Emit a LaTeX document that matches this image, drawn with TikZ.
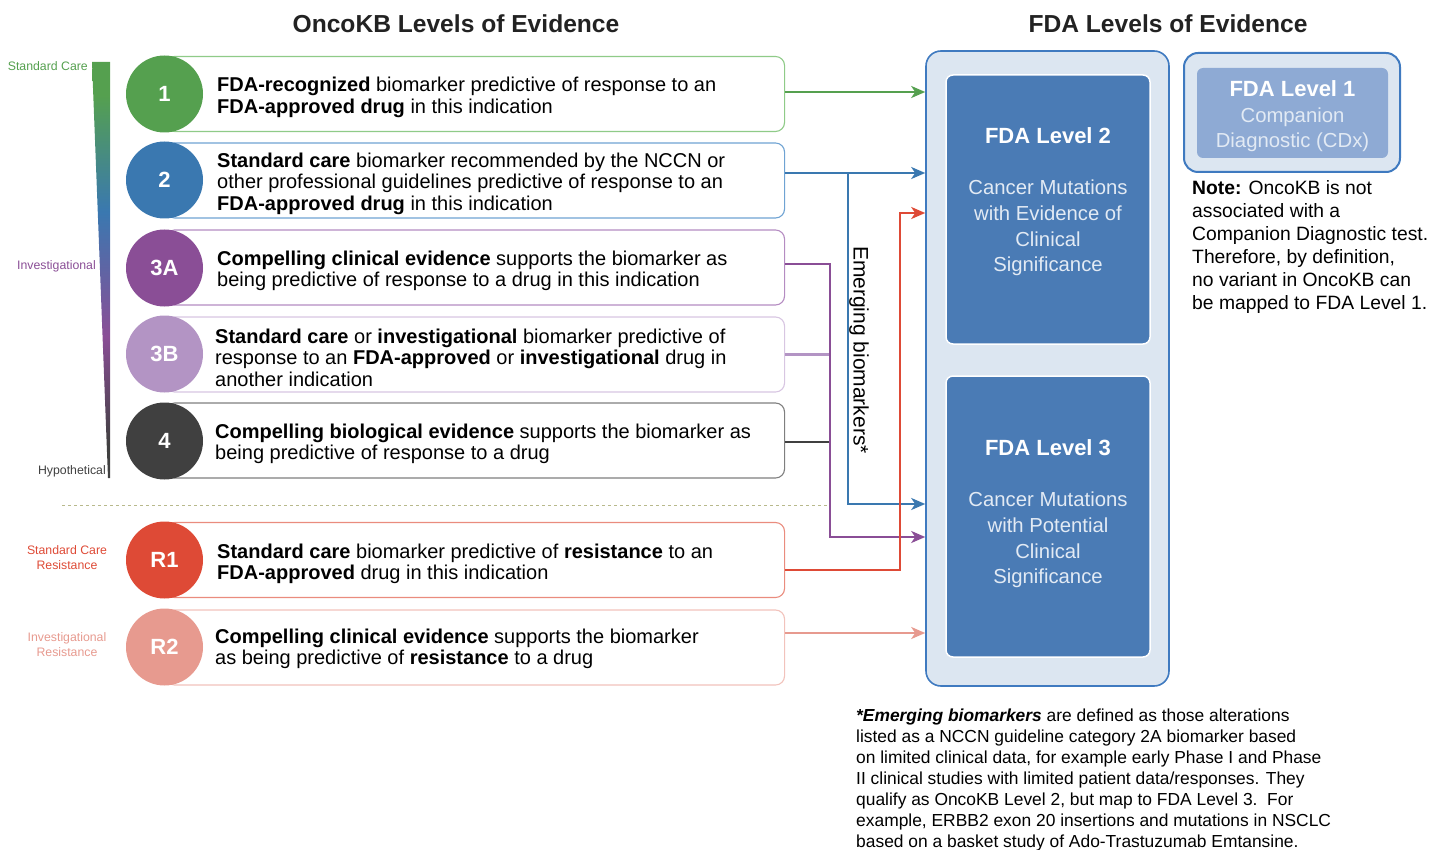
\documentclass[tikz,border=0pt]{standalone}
\usepackage{fontspec}
\setmainfont{Liberation Sans}
\usetikzlibrary{arrows.meta,calc}
\definecolor{cgreen}{HTML}{55A04F}
\definecolor{cblue}{HTML}{3A78B0}
\definecolor{cpurple}{HTML}{8A4E96}
\definecolor{clilac}{HTML}{B394C4}
\definecolor{cdark}{HTML}{404040}
\definecolor{cred}{HTML}{DE4A36}
\definecolor{csalmon}{HTML}{E79A8F}
\definecolor{bgreen}{HTML}{8FCB88}
\definecolor{bblue}{HTML}{6FA3D3}
\definecolor{bpurple}{HTML}{B58CC2}
\definecolor{blilac}{HTML}{D8C6E2}
\definecolor{bdark}{HTML}{7F7F7F}
\definecolor{bred}{HTML}{EA8C7E}
\definecolor{bsalmon}{HTML}{F2C3BC}
\definecolor{panelfill}{HTML}{DCE6F1}
\definecolor{panelline}{HTML}{3F7AC0}
\definecolor{fdabox}{HTML}{4A7BB5}
\definecolor{fdaone}{HTML}{8EAAD4}
\definecolor{fdatext}{HTML}{E2EAF4}
\definecolor{dashcol}{HTML}{B8B98C}
\definecolor{titlecol}{HTML}{222222}
\pgfdeclareverticalshading{wedgeshade}{100bp}{color(0bp)=(cdark); color(29bp)=(cdark); color(42bp)=(cpurple); color(57bp)=(cblue); color(71bp)=(cgreen); color(100bp)=(cgreen)}
\begin{document}
\begin{tikzpicture}[x=1pt,y=-1pt,
  circ/.style={circle, minimum size=77pt, inner sep=0pt, text=white, font=\fontsize{22}{22}\selectfont\bfseries},
  lvlbox/.style={draw, fill=white, rounded corners=9pt, minimum width=619pt, minimum height=75pt, anchor=west, line width=1.1pt},
  btxt/.style={anchor=west, align=left, inner sep=0pt, font=\fontsize{20}{21.5}\selectfont},
  sidelab/.style={inner sep=0pt, font=\fontsize{12.3}{15}\selectfont},
  conn/.style={line width=2.4pt},
  arr/.style={conn, -{Stealth[length=14pt,width=12pt,inset=4pt]}},
  ftitle/.style={text=white, font=\fontsize{22}{24}\selectfont\bfseries},
  fbody/.style={text=fdatext, align=center, font=\fontsize{20.3}{25.6}\selectfont},
  ttl/.style={text=titlecol, font=\fontsize{24.6}{27}\selectfont\bfseries}
]
\useasboundingbox (0,0) rectangle (1445,850);

% titles
\node[ttl] (tleft) at (456,24) {OncoKB Levels of Evidence};
\node[ttl] (tright) at (1168,24) {FDA Levels of Evidence};

% gradient wedge
\shade[shading=wedgeshade] (92,62) -- (110,62) -- (110,478) -- (108,478) -- cycle;
\node[sidelab, text=cgreen, anchor=east] (lsc) at (88,66) {Standard Care};
\node[sidelab, text=cpurple, anchor=east] (linv) at (96,266) {Investigational};
\node[sidelab, text=cdark, anchor=east] (lhyp) at (106,471) {Hypothetical};
\node[sidelab, text=cred, align=center] (lr1) at (67,558) {Standard Care\\Resistance};
\node[sidelab, text=csalmon, align=center] (lr2) at (67,645) {Investigational\\Resistance};

% dashed separator
\draw[dashcol, dashed, line width=0.8pt] (62,505) -- (830,505);

% FDA panel
\node[draw=panelline, fill=panelfill, line width=1.6pt, rounded corners=15pt, minimum width=243pt, minimum height=635pt] (fda) at (1047.5,368.5) {};
\node[draw=white, fill=fdabox, line width=1.5pt, rounded corners=7pt, minimum width=204pt, minimum height=269pt] (l2) at (1048,209.5) {};
\node[draw=white, fill=fdabox, line width=1.5pt, rounded corners=7pt, minimum width=204pt, minimum height=281pt] (l3) at (1048,516.5) {};
\node[ftitle] (l2t) at (1048,136) {FDA Level 2};
\node[fbody] (l2b) at (1048,228) {Cancer Mutations\\with Evidence of\\Clinical\\Significance};
\node[ftitle] (l3t) at (1048,448) {FDA Level 3};
\node[fbody] (l3b) at (1048,540) {Cancer Mutations\\with Potential\\Clinical\\Significance};

% FDA level 1
\node[draw=panelline, fill=panelfill, line width=2pt, rounded corners=14pt, minimum width=216pt, minimum height=119pt] (l1o) at (1292,112.5) {};
\node[fill=fdaone, rounded corners=6pt, minimum width=191pt, minimum height=90pt] (l1i) at (1292.5,113) {};
\node[ftitle] (l1t) at (1292.5,89) {FDA Level 1};
\node[text=fdatext, align=center, font=\fontsize{20.3}{25}\selectfont] (l1b) at (1292.5,129.5) {Companion\\Diagnostic (CDx)};

% note
\node[anchor=north west, align=left, inner sep=0pt, font=\fontsize{19.3}{23}\selectfont] (note) at (1192,180) {\textbf{Note:} OncoKB is not\\associated with a\\Companion Diagnostic test.\\Therefore, by definition,\\no variant in OncoKB can\\be mapped to FDA Level 1.};

% footnote
\node[anchor=north west, align=left, inner sep=0pt, font=\fontsize{17.4}{21}\selectfont] (foot) at (856,709) {\textbf{\itshape *Emerging biomarkers} are defined as those alterations\\listed as a NCCN guideline category 2A biomarker based\\on limited clinical data, for example early Phase I and Phase\\II clinical studies with limited patient data/responses. They\\qualify as OncoKB Level 2, but map to FDA Level 3.\ \ For\\example, ERBB2 exon 20 insertions and mutations in NSCLC\\based on a basket study of Ado-Trastuzumab Emtansine.};

% level boxes
\node[lvlbox, draw=bgreen] (b1) at (165,94) {};
\node[lvlbox, draw=bblue] (b2) at (165,180.5) {};
\node[lvlbox, draw=bpurple] (b3) at (165,267.5) {};
\node[lvlbox, draw=blilac] (b4) at (165,354.5) {};
\node[lvlbox, draw=bdark] (b5) at (165,440.5) {};
\node[lvlbox, draw=bred] (b6) at (165,560) {};
\node[lvlbox, draw=bsalmon] (b7) at (165,647.5) {};

\node[circ, fill=cgreen] (c1) at (164.5,94) {1};
\node[circ, fill=cblue] (c2) at (164.5,180) {2};
\node[circ, fill=cpurple] (c3) at (164.5,268) {3A};
\node[circ, fill=clilac] (c4) at (164.5,354) {3B};
\node[circ, fill=cdark] (c5) at (164.5,441) {4};
\node[circ, fill=cred] (c6) at (164.5,560) {R1};
\node[circ, fill=csalmon] (c7) at (164.5,647) {R2};

\node[btxt, font=\fontsize{20}{22}\selectfont] (t1) at (217,97) {\textbf{FDA-recognized} biomarker predictive of response to an\\\textbf{FDA-approved drug} in this indication};
\node[btxt] (t2) at (217,183.5) {\textbf{Standard care} biomarker recommended by the NCCN or\\other professional guidelines predictive of response to an\\\textbf{FDA-approved drug} in this indication};
\node[btxt] (t3) at (217,271) {\textbf{Compelling clinical evidence} supports the biomarker as\\being predictive of response to a drug in this indication};
\node[btxt] (t4) at (215,357.5) {\textbf{Standard care} or \textbf{investigational} biomarker predictive of\\response to an \textbf{FDA-approved} or \textbf{investigational} drug in\\another indication};
\node[btxt] (t5) at (215,444) {\textbf{Compelling biological evidence} supports the biomarker as\\being predictive of response to a drug};
\node[btxt] (t6) at (217,564) {\textbf{Standard care} biomarker predictive of \textbf{resistance} to an\\\textbf{FDA-approved} drug in this indication};
\node[btxt] (t7) at (215,649) {\textbf{Compelling clinical evidence} supports the biomarker\\as being predictive of \textbf{resistance} to a drug};

% connector anchor points
\coordinate (o1) at ([yshift=2pt]b1.east);
\coordinate (o2) at ([yshift=7.5pt]b2.east);
\coordinate (o3) at ([yshift=3.5pt]b3.east);
\coordinate (o4) at (b4.east);
\coordinate (o5) at ([yshift=-1.5pt]b5.east);
\coordinate (o6) at ([yshift=-10pt]b6.east);
\coordinate (o7) at ([yshift=14.5pt]b7.east);
\coordinate (j2) at ([xshift=63pt]o2);
\coordinate (j3) at ([xshift=45pt]o3);
\coordinate (j6) at ([xshift=115pt]o6);
\coordinate (e2) at ([yshift=-135.5pt]fda.west);
\coordinate (e3) at ([yshift=-168.5pt]fda.west);
\coordinate (e6) at ([yshift=155.5pt]fda.west);

% connectors
\draw[conn, clilac] (o4) -- (o4 -| j3);
\draw[conn, cdark, line width=1.6pt] (o5) -- (o5 -| j3);
\draw[arr, cpurple] (o3) -- (j3) |- (e3);
\draw[arr, cgreen] (o1) -- (fda.west |- o1);
\draw[arr, cblue] (o2) -- (fda.west |- o2);
\draw[arr, cblue] (j2) |- (e2);
\draw[arr, cred] (o6) -- (j6) |- (e6);
\draw[arr, csalmon] (o7) -- (fda.west |- o7);

\node[rotate=-90, font=\fontsize{21}{23}\selectfont] (emerg) at (859,350) {Emerging biomarkers*};
\end{tikzpicture}
\end{document}
